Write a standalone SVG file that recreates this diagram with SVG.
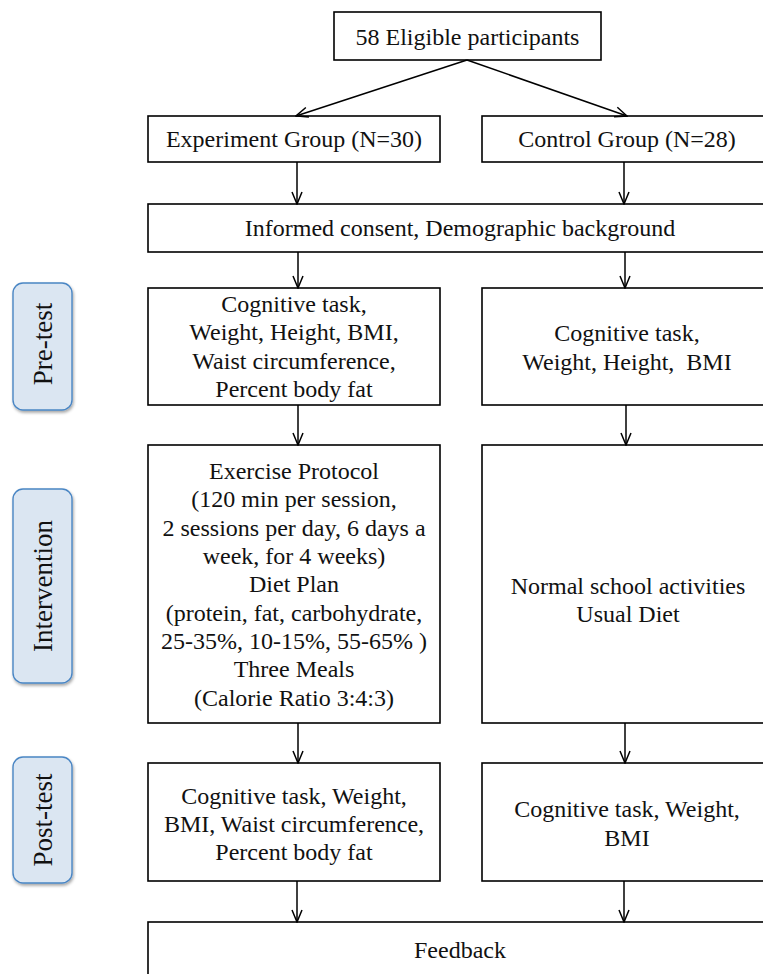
<svg xmlns="http://www.w3.org/2000/svg" width="763" height="974" viewBox="0 0 763 974">
<style>
.box{fill:#fff;stroke:#000;stroke-width:1.6}
.lab{fill:#dbe6f2;stroke:#4a86c4;stroke-width:1.4}
text{font-family:"Liberation Serif","Times New Roman",serif;font-size:24px;fill:#111;text-anchor:middle}
.labt{font-size:27px}
.conn line{stroke:#000;stroke-width:1.5;fill:none}
</style>
<defs>
<marker id="arr" viewBox="0 0 14 12" refX="13" refY="6" markerWidth="14" markerHeight="12" markerUnits="userSpaceOnUse" orient="auto">
<path d="M1,1 L13,6 L1,11" fill="none" stroke="#000" stroke-width="1.5"/>
</marker>
<filter id="sh" x="-20%" y="-20%" width="150%" height="150%">
<feDropShadow dx="1" dy="2" stdDeviation="1.5" flood-color="#000" flood-opacity="0.35"/>
</filter>
</defs>
<rect width="763" height="974" fill="#fff"/>

<g id="label-pretest">
<rect class="lab" x="13" y="283" width="59" height="127" rx="10" filter="url(#sh)"/>
<text class="labt" transform="translate(42,344) rotate(-90)" x="0" y="10">Pre-test</text>
</g>
<g id="label-intervention">
<rect class="lab" x="13" y="489" width="59" height="194" rx="10" filter="url(#sh)"/>
<text class="labt" transform="translate(42,586) rotate(-90)" x="0" y="10">Intervention</text>
</g>
<g id="label-posttest">
<rect class="lab" x="13" y="757" width="59" height="126" rx="10" filter="url(#sh)"/>
<text class="labt" transform="translate(42,820) rotate(-90)" x="0" y="10">Post-test</text>
</g>

<g id="eligible">
<rect class="box" x="334" y="12" width="267" height="48"/>
<text x="467.5" y="45">58 Eligible participants</text>
</g>
<g id="experiment-group">
<rect class="box" x="148" y="116" width="292" height="46"/>
<text x="294" y="147">Experiment Group (N=30)</text>
</g>
<g id="control-group">
<rect class="box" x="482" y="116" width="300" height="46"/>
<text x="627" y="147">Control Group (N=28)</text>
</g>
<g id="consent">
<rect class="box" x="148" y="204" width="634" height="48"/>
<text x="460" y="236">Informed consent, Demographic background</text>
</g>
<g id="pretest-exp">
<rect class="box" x="148" y="288" width="292" height="117"/>
<text x="294" y="312">Cognitive task,</text>
<text x="294" y="340">Weight, Height, BMI,</text>
<text x="294" y="369">Waist circumference,</text>
<text x="294" y="397">Percent body fat</text>
</g>
<g id="pretest-ctrl">
<rect class="box" x="482" y="288" width="300" height="117"/>
<text x="627" y="341">Cognitive task,</text>
<text x="627" y="370">Weight, Height,&#160; BMI</text>
</g>
<g id="intervention-exp">
<rect class="box" x="148" y="445" width="292" height="278"/>
<text x="294" y="479">Exercise Protocol</text>
<text x="294" y="507">(120 min per session,</text>
<text x="294" y="536">2 sessions per day, 6 days a</text>
<text x="294" y="564">week, for 4 weeks)</text>
<text x="294" y="592">Diet Plan</text>
<text x="294" y="621">(protein, fat, carbohydrate,</text>
<text x="294" y="649">25-35%, 10-15%, 55-65% )</text>
<text x="294" y="677">Three Meals</text>
<text x="294" y="706">(Calorie Ratio 3:4:3)</text>
</g>
<g id="intervention-ctrl">
<rect class="box" x="482" y="445" width="300" height="278"/>
<text x="628" y="594">Normal school activities</text>
<text x="628" y="622">Usual Diet</text>
</g>
<g id="posttest-exp">
<rect class="box" x="148" y="763" width="292" height="118"/>
<text x="294" y="804">Cognitive task, Weight,</text>
<text x="294" y="832">BMI, Waist circumference,</text>
<text x="294" y="860">Percent body fat</text>
</g>
<g id="posttest-ctrl">
<rect class="box" x="482" y="763" width="300" height="118"/>
<text x="627" y="817">Cognitive task, Weight,</text>
<text x="627" y="846">BMI</text>
</g>
<g id="feedback">
<rect class="box" x="148" y="922" width="634" height="80"/>
<text x="460" y="958">Feedback</text>
</g>

<g class="conn" id="connectors">
<line x1="467" y1="60" x2="296" y2="116" marker-end="url(#arr)"/>
<line x1="467" y1="60" x2="627" y2="116" marker-end="url(#arr)"/>
<line x1="297" y1="162" x2="297" y2="204" marker-end="url(#arr)"/>
<line x1="624" y1="162" x2="624" y2="204" marker-end="url(#arr)"/>
<line x1="298" y1="252" x2="298" y2="288" marker-end="url(#arr)"/>
<line x1="625" y1="252" x2="625" y2="288" marker-end="url(#arr)"/>
<line x1="298" y1="405" x2="298" y2="445" marker-end="url(#arr)"/>
<line x1="626" y1="405" x2="626" y2="445" marker-end="url(#arr)"/>
<line x1="298" y1="723" x2="298" y2="763" marker-end="url(#arr)"/>
<line x1="625" y1="723" x2="625" y2="763" marker-end="url(#arr)"/>
<line x1="297" y1="881" x2="297" y2="922" marker-end="url(#arr)"/>
<line x1="624" y1="881" x2="624" y2="922" marker-end="url(#arr)"/>
</g>
</svg>
